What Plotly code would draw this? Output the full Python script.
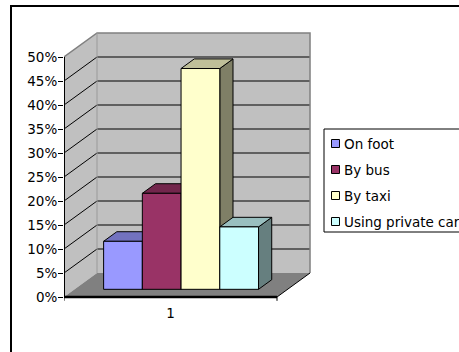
import plotly.graph_objects as go

# ---- data -------------------------------------------------------------
series = ["On foot", "By bus", "By taxi", "Using private car"]
values = [10, 20, 46, 13]            # percent
front_colors = ["#9999FF", "#993366", "#FFFFCC", "#CCFFFF"]
category_labels = ["1"]
y_tick_values = [0, 5, 10, 15, 20, 25, 30, 35, 40, 45, 50]
y_tick_labels = [f"{v}%" for v in y_tick_values]

# ---- pseudo-3D geometry (axis units) -----------------------------------
Y_MAX = 50          # top of the value axis
DX = 0.155          # horizontal shift of the back wall (x units)
DY = 5              # vertical shift of the back wall (percent units)
GAP = 1.5           # gap width as a multiple of one bar width
D0, D1 = 0.32, 0.72 # front / back depth of the bars (fraction of wall depth)
FONT = dict(family="DejaVu Sans", size=13.5, color="black")

W = 1.0 / (len(values) + GAP)


def shade(hex_color, f):
    h = hex_color.lstrip("#")
    r, g, b = (int(h[k:k + 2], 16) for k in (0, 2, 4))
    return "#%02X%02X%02X" % (int(r * f), int(g * f), int(b * f))


def poly(xs, ys, fill, line_color="black", line_width=1):
    return go.Scatter(
        x=list(xs) + [xs[0]], y=list(ys) + [ys[0]], mode="lines",
        fill="toself", fillcolor=fill,
        line=dict(color=line_color, width=line_width),
        hoverinfo="skip", showlegend=False,
    )


def path(xs, ys, color, width):
    return go.Scatter(x=xs, y=ys, mode="lines",
                      line=dict(color=color, width=width),
                      hoverinfo="skip", showlegend=False)


fig = go.Figure()

# walls and floor
fig.add_trace(poly([0, 0, DX, DX], [0, Y_MAX, Y_MAX + DY, DY], "#C0C0C0", "rgba(0,0,0,0)", 0))
fig.add_trace(poly([DX, DX, 1 + DX, 1 + DX], [DY, Y_MAX + DY, Y_MAX + DY, DY], "#C0C0C0", "rgba(0,0,0,0)", 0))
fig.add_trace(poly([0, 1, 1 + DX, DX], [0, 0, DY, DY], "#808080", "rgba(0,0,0,0)", 0))

# gridlines: diagonal on the side wall, horizontal on the back wall
gx, gy = [], []
for v in y_tick_values[1:-1]:
    gx += [0, DX, 1 + DX, None]
    gy += [v, v + DY, v + DY, None]
fig.add_trace(path(gx, gy, "black", 1))

# wall edges
fig.add_trace(path([0, DX, 1 + DX, 1 + DX], [Y_MAX, Y_MAX + DY, Y_MAX + DY, DY], "#808080", 1.5))
fig.add_trace(path([DX, DX], [DY, Y_MAX + DY], "#9A9A9A", 1))
fig.add_trace(path([0, 0], [0, Y_MAX], "black", 2))

# floor edges and category boundary ticks
fig.add_trace(path([0, 1], [0, 0], "black", 2.5))
fig.add_trace(path([1, 1 + DX], [0, DY], "black", 1))
fig.add_trace(path([0, 0, None, 1, 1], [0, -0.8, None, 0, -0.8], "black", 1))

# bars: drawn left to right so each one hides the right face of the previous
ddx, ddy = (D1 - D0) * DX, (D1 - D0) * DY
for i, (name, v, col) in enumerate(zip(series, values, front_colors)):
    x0 = 0.5 - len(values) / 2 * W + i * W + D0 * DX
    x1 = x0 + W
    y0 = D0 * DY
    y1 = v + D0 * DY
    fig.add_trace(poly([x1, x1, x1 + ddx, x1 + ddx], [y0, y1, y1 + ddy, y0 + ddy], shade(col, 0.5)))
    fig.add_trace(poly([x0, x1, x1 + ddx, x0 + ddx], [y1, y1, y1 + ddy, y1 + ddy], shade(col, 0.75)))
    fig.add_trace(poly([x0, x1, x1, x0], [y0, y0, y1, y1], col))

# ---- layout -----------------------------------------------------------
L, R, T, B = 64, 143, 30, 49
WIDTH, HEIGHT = 459, 352
PX_PER_X = 213.0
plot_w = WIDTH - L - R
plot_h = HEIGHT - T - B
y_lo = -1.25
y_hi = y_lo + plot_h / 4.8


def px_to_paper(px, py):
    return (px - L) / plot_w, (HEIGHT - B - py) / plot_h


# legend (drawn as shapes + text)
shapes = []
annotations = []
lx0, ly_top = px_to_paper(324, 129)
lx1, ly_bot = px_to_paper(480, 232)
shapes.append(dict(type="rect", xref="paper", yref="paper", x0=lx0, x1=lx1,
                   y0=ly_bot, y1=ly_top, line=dict(color="black", width=1)))
for k, (name, col) in enumerate(zip(series, front_colors)):
    cy = 143.5 + k * 26
    sx0, sy0 = px_to_paper(331.5, cy + 4)
    sx1, sy1 = px_to_paper(339.5, cy - 4)
    shapes.append(dict(type="rect", xref="paper", yref="paper", x0=sx0, x1=sx1,
                       y0=sy0, y1=sy1, fillcolor=col,
                       line=dict(color="black", width=1)))
    tx, ty = px_to_paper(341.5, cy)
    annotations.append(dict(text=name, xref="paper", yref="paper", x=tx, y=ty,
                            xanchor="left", yanchor="middle", showarrow=False,
                            font=FONT))

# chart frame
fx0, fy1 = px_to_paper(11, 6)
fx1, fy0 = px_to_paper(480, 370)
shapes.append(dict(type="rect", xref="paper", yref="paper", x0=fx0, x1=fx1,
                   y0=fy0, y1=fy1, line=dict(color="black", width=2)))

fig.update_layout(
    width=WIDTH, height=HEIGHT,
    margin=dict(l=L, r=R, t=T, b=B, pad=0),
    paper_bgcolor="white", plot_bgcolor="white",
    showlegend=False,
    font=FONT,
    shapes=shapes,
    annotations=annotations,
    xaxis=dict(range=[0, plot_w / PX_PER_X], tickvals=[0.5], ticktext=category_labels,
               ticks="", showgrid=False, zeroline=False, showline=False,
               tickfont=FONT, fixedrange=True),
    yaxis=dict(range=[y_lo, y_hi], tickvals=y_tick_values, ticktext=y_tick_labels,
               ticks="outside", ticklen=5, tickcolor="black", tickwidth=1,
               ticklabelstandoff=-2,
               showgrid=False, zeroline=False, showline=False,
               tickfont=FONT, fixedrange=True),
)

fig.write_html("out.html")
